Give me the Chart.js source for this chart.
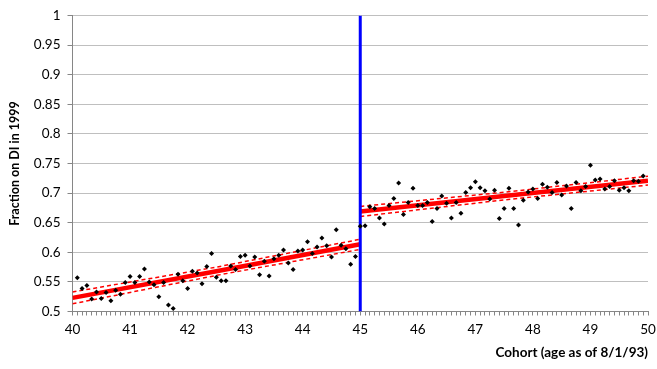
<!DOCTYPE html>
<html>
<head>
<meta charset="utf-8">
<script src="https://cdn.jsdelivr.net/npm/chart.js@4"></script>
<style>
  html, body { margin: 0; padding: 0; background: #fff; }
  #wrap { width: 657px; height: 369px; }
</style>
</head>
<body>
<div id="wrap"><canvas id="grafico" width="657" height="369"></canvas></div>
<script>
// fraction on DI by monthly cohort, before and after age 45
const before45 = [0.557, 0.539, 0.544, 0.521, 0.533, 0.522, 0.532, 0.518, 0.536, 0.529,
  0.549, 0.559, 0.549, 0.559, 0.572, 0.550, 0.545, 0.525, 0.549, 0.511,
  0.505, 0.563, 0.552, 0.539, 0.568, 0.565, 0.547, 0.576, 0.598, 0.558,
  0.552, 0.552, 0.577, 0.571, 0.593, 0.595, 0.577, 0.592, 0.562, 0.585,
  0.560, 0.589, 0.595, 0.604, 0.582, 0.571, 0.602, 0.604, 0.618, 0.598,
  0.609, 0.624, 0.611, 0.592, 0.638, 0.612, 0.606, 0.580, 0.593];
const after45 = [0.644, 0.645, 0.677, 0.674, 0.658, 0.648, 0.679, 0.691, 0.717, 0.664,
  0.684, 0.708, 0.679, 0.679, 0.684, 0.652, 0.674, 0.695, 0.683, 0.658,
  0.684, 0.666, 0.701, 0.709, 0.719, 0.709, 0.704, 0.690, 0.705, 0.657,
  0.674, 0.708, 0.674, 0.646, 0.688, 0.702, 0.707, 0.691, 0.715, 0.710,
  0.701, 0.718, 0.697, 0.712, 0.674, 0.718, 0.704, 0.711, 0.747, 0.722,
  0.724, 0.707, 0.711, 0.721, 0.705, 0.709, 0.704, 0.721, 0.720, 0.729];

// fitted lines and bands
const fitXLeft = [40, 42.5, 45];
const fitLeft = [0.523, 0.568, 0.6135];
const upLeft = [0.533, 0.575, 0.622];
const loLeft = [0.513, 0.561, 0.605];
const fitXRight = [45, 47.5, 50];
const fitRight = [0.669, 0.695, 0.721];
const upRight = [0.6775, 0.7015, 0.7285];
const loRight = [0.6605, 0.6885, 0.7135];

const cutoff = 45;
const yTicks = [0.5, 0.55, 0.6, 0.65, 0.7, 0.75, 0.8, 0.85, 0.9, 0.95, 1];

// monthly cohorts: 40 + 1/12 ... 49 + 11/12
const pts = before45.concat(after45).map((y, i) => ({ x: 40 + (i + 1) / 12, y }));
const toPts = (xs, ys) => xs.map((x, i) => ({ x, y: ys[i] }));

const rojo = '#ff0000';
const lineaRoja = (data, dashed) => ({
  data, showLine: true, pointRadius: 0, borderColor: rojo,
  borderWidth: dashed ? 1.5 : 4.5, borderDash: dashed ? [4, 3] : [], order: 2
});

new Chart(document.getElementById('grafico'), {
  type: 'scatter',
  data: {
    datasets: [
      { data: pts, pointStyle: 'rectRot', pointRadius: 2.5, backgroundColor: '#000',
        borderColor: '#000', borderWidth: 0, order: 0 },
      { data: [{ x: cutoff, y: 0.5 }, { x: cutoff, y: 1 }], showLine: true, pointRadius: 0,
        borderColor: '#0000ff', borderWidth: 3, order: 1 },
      lineaRoja(toPts(fitXLeft, fitLeft), false),
      lineaRoja(toPts(fitXLeft, upLeft), true),
      lineaRoja(toPts(fitXLeft, loLeft), true),
      lineaRoja(toPts(fitXRight, fitRight), false),
      lineaRoja(toPts(fitXRight, upRight), true),
      lineaRoja(toPts(fitXRight, loRight), true)
    ]
  },
  options: {
    responsive: false,
    animation: false,
    layout: { padding: { left: 0, right: 9, top: 15.5, bottom: 0 } },
    plugins: { legend: { display: false }, tooltip: { enabled: false } },
    scales: {
      x: {
        type: 'linear', min: 40, max: 50,
        afterBuildTicks: s => {
          const t = [];
          for (let i = 0; i <= 120; i++) t.push({ value: 40 + i / 12 });
          s.ticks = t;
        },
        afterFit: s => { s.height = 57.5; s.paddingLeft = 0; s.paddingRight = 0; },
        grid: { drawOnChartArea: false, tickLength: 4, tickColor: '#868686' },
        border: { color: '#868686', width: 1 },
        ticks: {
          autoSkip: false, maxRotation: 0, padding: 6, color: '#000',
          font: { family: 'Lato', size: 13.5 },
          callback: v => Math.abs(v - Math.round(v)) < 1e-6 ? String(Math.round(v)) : ''
        },
        title: {
          display: true, text: 'Cohort (age as of 8/1/93)', align: 'end', color: '#000',
          font: { family: 'Lato', size: 13.5, weight: 'bold' }, padding: { top: 0, bottom: 8 }
        }
      },
      y: {
        min: 0.5, max: 1,
        afterBuildTicks: s => { s.ticks = yTicks.map(value => ({ value })); },
        afterFit: s => { s.width = 72.5; s.paddingTop = 0; s.paddingBottom = 0; },
        grid: { color: '#bfbfbf', lineWidth: 1, tickLength: 5, tickColor: '#868686' },
        border: { color: '#868686', width: 1 },
        ticks: {
          padding: 7, color: '#000', font: { family: 'Lato', size: 13.5 },
          callback: v => String(+v.toFixed(2))
        },
        title: {
          display: true, text: 'Fraction on DI in 1999', color: '#000',
          font: { family: 'Lato', size: 12.5, weight: 'bold' }, padding: { top: 7, bottom: 0 }
        }
      }
    }
  }
});
</script>
</body>
</html>
